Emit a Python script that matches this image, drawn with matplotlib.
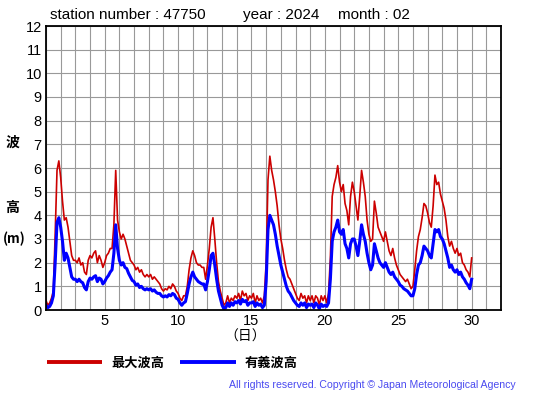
import matplotlib
matplotlib.use('Agg')
import matplotlib.pyplot as plt
import numpy as np

# 3-hourly readings, one row per day (00,03,06,09,12,15,18,21 h), day 1 .. day 29, plus day 30 00h
days = np.arange(1, 30)
hours = [0, 3, 6, 9, 12, 15, 18, 21]

max_wave = [
    [0.4, 0.2, 0.3, 0.5, 0.8, 3.2, 5.9, 6.3],
    [5.6, 4.6, 3.8, 3.9, 3.5, 2.9, 2.3, 2.1],
    [2.1, 2.0, 2.2, 1.9, 2.0, 1.6, 1.5, 2.1],
    [2.3, 2.2, 2.4, 2.5, 2.0, 2.3, 2.1, 1.8],
    [2.0, 2.3, 2.4, 2.6, 2.6, 3.6, 5.9, 3.8],
    [3.3, 3.0, 3.2, 3.0, 2.7, 2.4, 2.1, 2.0],
    [1.9, 1.7, 1.8, 1.6, 1.7, 1.5, 1.4, 1.5],
    [1.4, 1.5, 1.3, 1.4, 1.3, 1.2, 1.1, 0.9],
    [0.8, 0.9, 0.85, 1.0, 0.9, 1.1, 1.0, 0.8],
    [0.7, 0.5, 0.4, 0.6, 0.6, 1.0, 1.7, 2.2],
    [2.5, 2.3, 2.0, 1.9, 1.9, 1.8, 1.8, 1.3],
    [1.9, 2.6, 3.5, 3.9, 3.0, 2.0, 1.2, 0.8],
    [0.5, 0.2, 0.3, 0.6, 0.3, 0.5, 0.4, 0.6],
    [0.5, 0.7, 0.4, 0.8, 0.6, 0.7, 0.4, 0.6],
    [0.5, 0.7, 0.3, 0.6, 0.4, 0.5, 0.3, 0.6],
    [2.0, 5.5, 6.5, 5.9, 5.5, 5.0, 4.4, 3.6],
    [3.0, 2.6, 2.1, 1.7, 1.4, 1.3, 1.1, 0.9],
    [0.7, 0.5, 0.4, 0.7, 0.5, 0.6, 0.3, 0.6],
    [0.4, 0.6, 0.3, 0.6, 0.5, 0.2, 0.6, 0.4],
    [0.6, 0.3, 0.7, 2.2, 4.8, 5.3, 5.6, 6.1],
    [5.4, 5.0, 5.3, 4.5, 4.2, 3.6, 4.8, 5.4],
    [5.0, 4.4, 3.8, 4.8, 5.9, 5.4, 4.8, 3.8],
    [3.2, 2.9, 3.0, 4.6, 4.1, 3.5, 3.3, 3.1],
    [2.9, 3.3, 2.9, 2.5, 2.3, 2.6, 2.2, 1.9],
    [1.7, 1.5, 1.4, 1.3, 1.2, 1.3, 1.1, 0.9],
    [1.0, 1.7, 2.5, 3.1, 3.4, 3.9, 4.5, 4.4],
    [4.1, 3.7, 3.5, 4.4, 5.7, 5.3, 5.4, 4.9],
    [4.6, 4.3, 3.8, 3.1, 2.7, 2.9, 2.6, 2.4],
    [2.6, 2.3, 2.4, 2.0, 1.9, 1.7, 1.6, 1.4],
]
max_last = 2.2

sig_wave = [
    [0.2, 0.1, 0.15, 0.3, 0.6, 2.0, 3.7, 3.9],
    [3.5, 2.9, 2.1, 2.4, 2.2, 1.8, 1.4, 1.3],
    [1.3, 1.2, 1.3, 1.2, 1.15, 0.95, 0.85, 1.2],
    [1.35, 1.3, 1.4, 1.45, 1.2, 1.35, 1.3, 1.1],
    [1.2, 1.35, 1.45, 1.6, 1.7, 2.4, 3.6, 2.6],
    [2.1, 1.9, 2.0, 1.8, 1.75, 1.55, 1.4, 1.25],
    [1.2, 1.05, 1.1, 0.95, 1.0, 0.9, 0.85, 0.9],
    [0.85, 0.9, 0.8, 0.85, 0.75, 0.7, 0.7, 0.6],
    [0.55, 0.6, 0.55, 0.65, 0.6, 0.7, 0.65, 0.5],
    [0.45, 0.3, 0.2, 0.3, 0.35, 0.7, 1.1, 1.4],
    [1.6, 1.4, 1.3, 1.2, 1.15, 1.1, 1.1, 0.85],
    [1.2, 1.7, 2.3, 2.4, 1.9, 1.3, 0.8, 0.5],
    [0.2, 0.05, 0.1, 0.3, 0.15, 0.3, 0.2, 0.35],
    [0.3, 0.4, 0.25, 0.45, 0.35, 0.4, 0.2, 0.3],
    [0.3, 0.35, 0.15, 0.3, 0.2, 0.25, 0.1, 0.2],
    [1.2, 3.4, 4.0, 3.8, 3.6, 3.2, 2.7, 2.3],
    [1.9, 1.6, 1.3, 1.0, 0.8, 0.7, 0.55, 0.4],
    [0.3, 0.2, 0.15, 0.3, 0.2, 0.3, 0.1, 0.25],
    [0.2, 0.25, 0.1, 0.3, 0.2, 0.05, 0.25, 0.15],
    [0.2, 0.15, 0.3, 1.3, 2.9, 3.3, 3.5, 3.8],
    [3.3, 3.2, 3.4, 2.8, 2.6, 2.2, 2.8, 3.0],
    [3.0, 2.7, 2.3, 2.9, 3.6, 3.2, 2.9, 2.4],
    [2.0, 1.7, 1.9, 2.8, 2.5, 2.2, 2.0, 1.9],
    [1.8, 2.0, 1.8, 1.6, 1.5, 1.6, 1.4, 1.3],
    [1.2, 1.05, 1.0, 0.9, 0.85, 0.8, 0.7, 0.6],
    [0.6, 0.9, 1.5, 1.9, 2.0, 2.3, 2.7, 2.6],
    [2.5, 2.3, 2.2, 2.8, 3.4, 3.3, 3.4, 3.1],
    [3.0, 2.8, 2.5, 2.2, 1.8, 1.9, 1.7, 1.6],
    [1.7, 1.5, 1.6, 1.4, 1.3, 1.15, 1.05, 0.9],
]
sig_last = 1.3

t = np.array([d + h / 24 for d in days for h in hours] + [30.0])
hmax = np.array([v for row in max_wave for v in row] + [max_last])
hsig = np.array([v for row in sig_wave for v in row] + [sig_last])

plt.rcParams['font.family'] = ['Liberation Sans', 'Noto Sans CJK JP', 'DejaVu Sans']
jp = ['Noto Sans CJK JP', 'DejaVu Sans']

fig = plt.figure(figsize=(5.55, 3.95), dpi=100)
ax = fig.add_axes([46/555, 1-310/395, 455/555, 284/395])

l1, = ax.plot(t, hmax, color='#cc0000', lw=1.2, label='最大波高')
l2, = ax.plot(t, hsig, color='#0000ff', lw=2.2, label='有義波高')

ax.set_xlim(1, 32)
ax.set_ylim(0, 12)
ax.set_xticks([5, 10, 15, 20, 25, 30])
ax.set_xticks(np.arange(1, 33), minor=True)
ax.set_yticks(np.arange(0, 13))
ax.grid(True, which='both', color='#999999', lw=0.8)
ax.set_axisbelow(True)
ax.tick_params(which='both', length=0, labelsize=10.5, pad=3)
for s in ax.spines.values():
    s.set_linewidth(1.3)

ty = 1 - 15/395
fig.text(50/555, ty, 'station number : 47750', fontsize=11, va='center', ha='left')
fig.text(243/555, ty, 'year : 2024', fontsize=11, va='center', ha='left')
fig.text(338/555, ty, 'month : 02', fontsize=11, va='center', ha='left')

fig.text(12/555, 1-143/395, '波', family=jp, fontsize=10, fontweight='bold', ha='center', va='center')
fig.text(12/555, 1-208/395, '高', family=jp, fontsize=10, fontweight='bold', ha='center', va='center')
fig.text(14/555, 1-239/395, '(m)', family=jp, fontsize=9.5, fontweight='bold', ha='center', va='center')
fig.text(245/555, 1-337/395, '（日）', family=jp, fontsize=10, ha='center', va='center')

leg = fig.legend([l1, l2], ['最大波高', '有義波高'], loc='center left',
                 bbox_to_anchor=(35/555, 1-363/395), ncol=2, frameon=False,
                 handlelength=4.2, handletextpad=0.7, columnspacing=1.2,
                 prop={'family': jp, 'size': 9.5, 'weight': 'bold'})
for h in leg.legend_handles:
    h.set_linewidth(2.8)
    h.set_solid_capstyle('butt')

fig.text(516/555, 1-385/395, 'All rights reserved. Copyright © Japan Meteorological Agency',
         fontsize=7.6, color='#4a4af0', ha='right', va='center')

fig.savefig('out.png', dpi=100)
